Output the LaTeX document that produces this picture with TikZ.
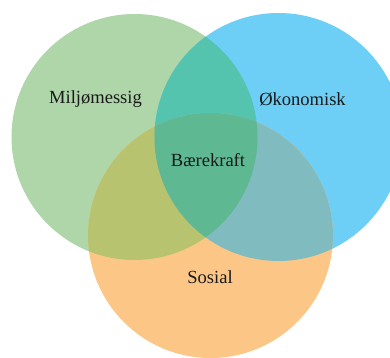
\documentclass[tikz,border=0pt]{standalone}
\usepackage{fontspec}
\setmainfont{Liberation Serif}
\definecolor{cgreen}{RGB}{174,214,169}
\definecolor{cblue}{RGB}{109,207,246}
\definecolor{corange}{RGB}{252,199,134}
\definecolor{cgb}{RGB}{84,196,174}
\definecolor{cgo}{RGB}{184,195,112}
\definecolor{cbo}{RGB}{128,187,192}
\definecolor{cgbo}{RGB}{94,184,146}
\tikzset{
  lbl/.style={font=\fontsize{18.6}{22}\selectfont, text=black!90, inner sep=0pt}
}
\begin{document}
\begin{tikzpicture}[x=1bp, y=-1bp]
  \useasboundingbox (0,0) rectangle (390,358);
  \def\G{(134.5,137) circle[radius=123]}
  \def\B{(278.5,137) circle[radius=124]}
  \def\O{(210.5,235.5) circle[radius=122.5]}
  \clip (0,0) rectangle (390,358);
  % single sets
  \fill[cgreen] \G;
  \fill[cblue] \B;
  \fill[corange] \O;
  % pairwise overlaps
  \begin{scope}\clip \G; \fill[cgb] \B; \end{scope}
  \begin{scope}\clip \G; \fill[cgo] \O; \end{scope}
  \begin{scope}\clip \B; \fill[cbo] \O; \end{scope}
  % triple overlap
  \begin{scope}\clip \G; \clip \B; \fill[cgbo] \O; \end{scope}
  % labels
  \node[lbl] (env) at (95.5,99.5) {Miljømessig};
  \node[lbl] (eco) at (302.5,99.5) {Økonomisk};
  \node[lbl] (core) at (208,160.5) {Bærekraft};
  \node[lbl] (soc) at (210,277.5) {Sosial};
\end{tikzpicture}
\end{document}
